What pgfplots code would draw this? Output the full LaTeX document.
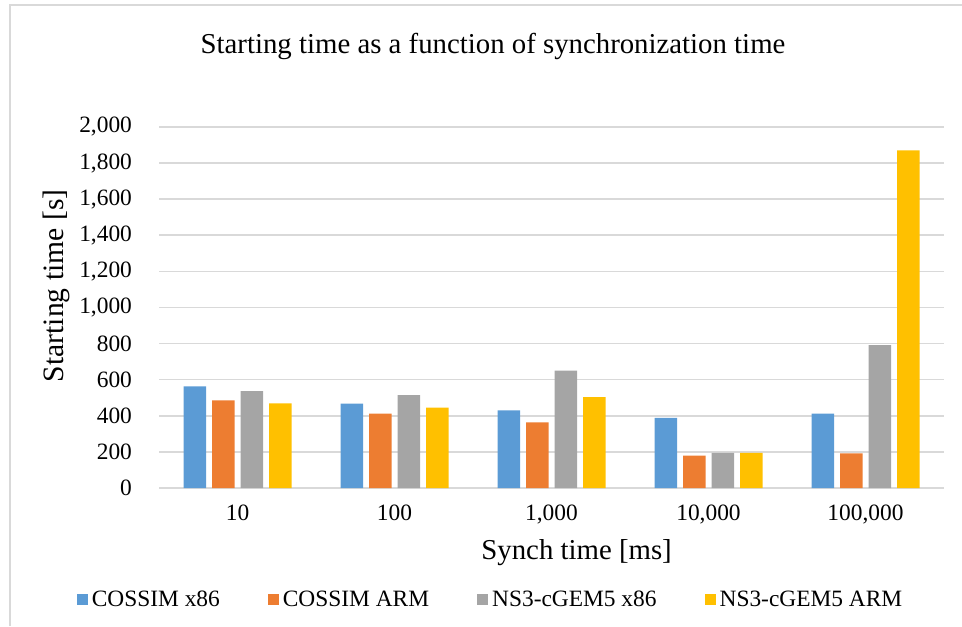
\documentclass[border=0pt]{standalone}
\usepackage{pgfplots}
\pgfplotsset{compat=1.18}
\usepackage{fontspec}
\setmainfont{Liberation Serif}
\definecolor{cblue}{HTML}{5B9BD5}
\definecolor{corange}{HTML}{ED7D31}
\definecolor{cgray}{HTML}{A5A5A5}
\definecolor{cyellow}{HTML}{FFC000}
\definecolor{gridc}{HTML}{D9D9D9}
\newcommand{\tickfont}{\fontsize{11.7}{14}\selectfont}
\newcommand{\labfont}{\fontsize{14.4}{17}\selectfont}
\begin{document}
\begin{tikzpicture}
\path[use as bounding box] (0,0) rectangle (481pt,313pt);
\draw[gridc, line width=0.6pt] (5pt,0) -- (5pt,310.5pt) -- (481pt,310.5pt);
\begin{axis}[
  at={(79.5pt,69pt)}, anchor=south west,
  scale only axis, width=392.5pt, height=180.5pt,
  ybar, bar width=11.25pt,
  xmin=-0.5, xmax=4.5, ymin=0, ymax=2000,
  ytick={0,200,...,2000},
  xtick={0,1,2,3,4},
  xticklabels={10,100,{1,000},{10,000},{100,000}},
  /pgf/number format/assume math mode=true,
  /pgf/number format/1000 sep={,},
  axis x line*=bottom, axis y line*=left,
  x axis line style={gridc, line width=0.8pt, -},
  y axis line style={draw=none},
  ymajorgrids, grid style={gridc, line width=0.8pt},
  major tick length=0pt,
  tick label style={font=\tickfont, black},
  yticklabel style={xshift=-10pt},
  xticklabel style={yshift=-5pt},
  title={Starting time as a function of synchronization time},
  title style={font=\labfont, at={(axis description cs:0.4255,1.19)}, anchor=center},
  xlabel={Synch time [ms]},
  xlabel style={font=\labfont, at={(axis description cs:0.532,-0.18)}, anchor=center},
  ylabel={Starting time [s]},
  ylabel style={font=\fontsize{14.8}{17}\selectfont, at={(axis description cs:-0.131,0.56)}, anchor=center, rotate=0},
  legend columns=4,
  legend style={draw=none, font=\tickfont, at={(axis description cs:0.4236,-0.31)}, anchor=center,
    /tikz/every even column/.append style={column sep=22pt}},
  legend image code/.code={\fill[#1] (0pt,-2.75pt) rectangle (5.5pt,2.75pt);},
]
\addplot[fill=cblue, draw=none, bar shift=-21.375pt] coordinates {(0,563) (1,468) (2,430) (3,388) (4,412)};
\addplot[fill=corange, draw=none, bar shift=-7.125pt] coordinates {(0,486) (1,412) (2,364) (3,180) (4,192)};
\addplot[fill=cgray, draw=none, bar shift=7.125pt] coordinates {(0,537) (1,515) (2,650) (3,194) (4,792)};
\addplot[fill=cyellow, draw=none, bar shift=21.375pt] coordinates {(0,469) (1,445) (2,504) (3,194) (4,1871)};
\legend{COSSIM x86, COSSIM ARM, NS3-cGEM5 x86, NS3-cGEM5 ARM}
\end{axis}
\end{tikzpicture}
\end{document}
